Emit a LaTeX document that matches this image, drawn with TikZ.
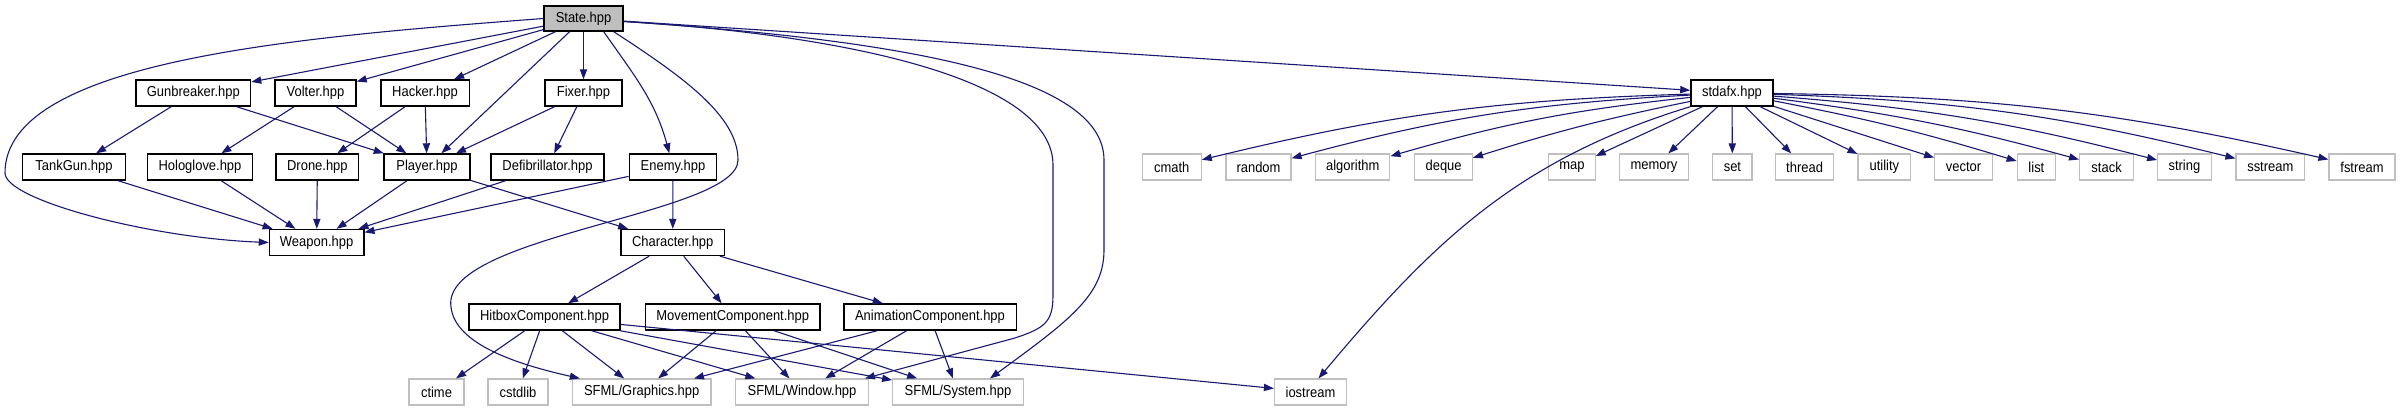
\documentclass[tikz,border=0pt]{standalone}
\usepackage{fontspec}
\setmainfont[FakeStretch=0.9]{Liberation Sans}
\usepackage{tikz}
\usetikzlibrary{arrows.meta}
\definecolor{edgeblue}{HTML}{191970}
\definecolor{sysgray}{HTML}{BFBFBF}

\begin{document}
\begin{tikzpicture}[
  x=0.5pt,y=0.5pt,
  font=\fontsize{7.2}{8}\selectfont,
  hdr/.style={draw=black,line width=0.7pt,fill=white,inner sep=0pt,
              minimum height=13pt},
  rootbox/.style={hdr,fill=sysgray,minimum height=12.5pt},
  sys/.style={draw=sysgray,line width=0.6pt,fill=white,inner sep=0pt,
              minimum height=13pt},
  inc/.style={-{Triangle[length=5pt,width=3.6pt]},draw=edgeblue,
              line width=0.55pt}
]
\useasboundingbox (0,0) rectangle (2406,-411);

\node[rootbox,minimum width=39.5pt] (state) at (583.5,-18.5) {State.hpp};

\node[hdr,minimum width=57.25pt] (gunbreaker) at (193.3,-93) {Gunbreaker.hpp};
\node[hdr,minimum width=40.5pt] (volter) at (315.5,-93) {Volter.hpp};
\node[hdr,minimum width=44.2pt] (hacker) at (425,-93) {Hacker.hpp};
\node[hdr,minimum width=38.5pt] (fixer) at (583.5,-93) {Fixer.hpp};
\node[hdr,minimum width=41.1pt] (stdafx) at (1732,-93) {stdafx.hpp};

\node[hdr,minimum width=51.5pt] (tankgun) at (74,-167) {TankGun.hpp};
\node[hdr,minimum width=52.5pt] (hologlove) at (200,-167) {Hologlove.hpp};
\node[hdr,minimum width=41.35pt] (drone) at (317.4,-167) {Drone.hpp};
\node[hdr,minimum width=43.15pt] (player) at (427,-167) {Player.hpp};
\node[hdr,minimum width=56.5pt] (defib) at (547.5,-167) {Defibrillator.hpp};
\node[hdr,minimum width=43.75pt] (enemy) at (673,-167) {Enemy.hpp};

\node[sys,minimum width=29.5pt] (cmath) at (1171.7,-167) {cmath};
\node[sys,minimum width=32.5pt] (random) at (1258.5,-167) {random};
\node[sys,minimum width=37pt] (algorithm) at (1352.8,-167) {algorithm};
\node[sys,minimum width=28.8pt] (deque) at (1443.6,-167) {deque};
\node[sys,minimum width=23.15pt] (map) at (1572,-167) {map};
\node[sys,minimum width=34.75pt] (memory) at (1654,-167) {memory};
\node[sys,minimum width=19.65pt] (set) at (1732.4,-167) {set};
\node[sys,minimum width=29.1pt] (thread) at (1804.6,-167) {thread};
\node[sys,minimum width=26.35pt] (utility) at (1884.4,-167) {utility};
\node[sys,minimum width=28.8pt] (vector) at (1963.5,-167) {vector};
\node[sys,minimum width=19.15pt] (list) at (2036.4,-167) {list};
\node[sys,minimum width=27pt] (stack) at (2106.6,-167) {stack};
\node[sys,minimum width=26.75pt] (string) at (2184.4,-167) {string};
\node[sys,minimum width=34.3pt] (sstream) at (2270.3,-167) {sstream};
\node[sys,minimum width=33pt] (fstream) at (2362,-167) {fstream};

\node[hdr,minimum width=47.2pt] (weapon) at (316.6,-242.5) {Weapon.hpp};
\node[hdr,minimum width=51.75pt] (character) at (672.7,-242.5) {Character.hpp};

\node[hdr,minimum width=75.5pt] (hitbox) at (544.5,-317) {HitboxComponent.hpp};
\node[hdr,minimum width=87.3pt] (movement) at (732.7,-317) {MovementComponent.hpp};
\node[hdr,minimum width=86.2pt] (animation) at (930,-317) {AnimationComponent.hpp};

\node[sys,minimum width=27.5pt] (ctime) at (436.5,-392) {ctime};
\node[sys,minimum width=30pt] (cstdlib) at (518,-392) {cstdlib};
\node[sys,minimum width=69.3pt] (graphics) at (641.7,-392) {SFML/Graphics.hpp};
\node[sys,minimum width=66.35pt] (window) at (802,-392) {SFML/Window.hpp};
\node[sys,minimum width=65.3pt] (system) at (958,-392) {SFML/System.hpp};
\node[sys,minimum width=36pt] (iostream) at (1310.5,-392) {iostream};

\draw[inc] (state) -- (gunbreaker);
\draw[inc] (state) -- (volter);
\draw[inc] (state) -- (hacker);
\draw[inc] (state) -- (player);
\draw[inc] (state) -- (fixer);
\draw[inc] ([xshift=-10pt]state.south east) to[out=-55,in=105] (enemy);
\draw[inc] (state) -- (stdafx);
\draw[inc] (state.west) .. controls (300,-37) and (5,-60) .. (5,-173)
  .. controls (5,-200) and (150,-238) .. (weapon.west);
\draw[inc] ([xshift=-5pt]state.south east) .. controls (680,-75) and (738,-115) .. (738,-160)
  .. controls (738,-215) and (440,-235) .. (451,-307)
  .. controls (455,-345) and (520,-365) .. ([xshift=4pt]graphics.north west);
\draw[inc] ([yshift=-1.5pt]state.east) .. controls (850,-35) and (1053,-80) .. (1053,-165)
  -- (1053,-295) .. controls (1053,-322) and (1045,-328) .. (1015,-338)
  -- ([xshift=-2pt]window.north east);
\draw[inc] ([yshift=-1.5pt]state.east) .. controls (900,-40) and (1104,-75) .. (1104,-160)
  -- (1104,-250) .. controls (1104,-295) and (1070,-320) .. ([xshift=16pt]system.north);

\draw[inc] (gunbreaker) -- (tankgun);
\draw[inc] (gunbreaker) -- (player);
\draw[inc] (volter) -- (hologlove);
\draw[inc] (volter) -- (player);
\draw[inc] (hacker) -- (drone);
\draw[inc] (hacker) -- (player);
\draw[inc] (fixer) -- (player);
\draw[inc] (fixer) -- (defib);

\draw[inc] (tankgun) -- (weapon);
\draw[inc] (hologlove) -- (weapon);
\draw[inc] (drone) -- (weapon);
\draw[inc] (player) -- (weapon);
\draw[inc] (defib) -- (weapon);
\draw[inc] (enemy) -- (weapon);
\draw[inc] (player) -- (character);
\draw[inc] (enemy) -- (character);

\draw[inc] (character) -- (hitbox);
\draw[inc] (character) -- (movement);
\draw[inc] (character) -- (animation);

\draw[inc] (hitbox) -- (ctime);
\draw[inc] (hitbox) -- (cstdlib);
\draw[inc] (hitbox) -- (graphics);
\draw[inc] (hitbox) -- (window);
\draw[inc] (hitbox) -- (system);
\draw[inc] (hitbox) -- (iostream);
\draw[inc] (movement) -- (graphics);
\draw[inc] (movement) -- (window);
\draw[inc] (movement) -- (system);
\draw[inc] (animation) -- (graphics);
\draw[inc] (animation) -- (window);
\draw[inc] (animation) -- (system);

\draw[inc] (stdafx) to[bend right=6] (cmath);
\draw[inc] (stdafx) to[bend right=6] (random);
\draw[inc] (stdafx) to[bend right=5] (algorithm);
\draw[inc] (stdafx) to[bend right=3] (deque);
\draw[inc] (stdafx) -- (map);
\draw[inc] (stdafx) -- (memory);
\draw[inc] (stdafx) -- (set);
\draw[inc] (stdafx) -- (thread);
\draw[inc] (stdafx) -- (utility);
\draw[inc] (stdafx) -- (vector);
\draw[inc] (stdafx) to[bend left=3] (list);
\draw[inc] (stdafx) to[bend left=4] (stack);
\draw[inc] (stdafx) to[bend left=5] (string);
\draw[inc] (stdafx) to[bend left=6] (sstream);
\draw[inc] (stdafx) to[bend left=6] (fstream);
\draw[inc] (stdafx.south west) to[out=197,in=50] ([xshift=4pt]iostream.north);
\end{tikzpicture}
\end{document}
